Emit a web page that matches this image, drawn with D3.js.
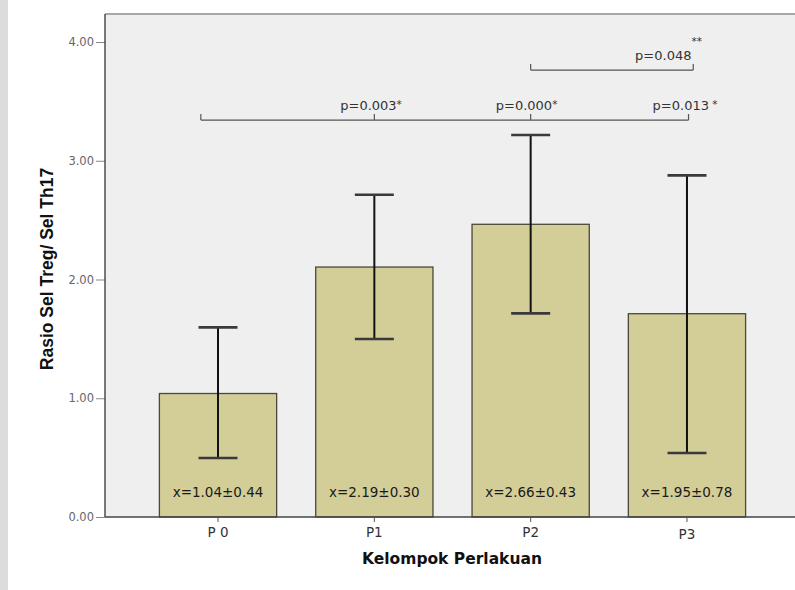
<!DOCTYPE html>
<html>
<head>
<meta charset="utf-8">
<script src="https://cdn.jsdelivr.net/npm/d3@7"></script>
<style>
  body { margin: 0; background: #fff; }
  svg { display: block; }
  .tick-y text { font-family: "DejaVu Sans", Verdana, sans-serif; font-size: 11.5px; fill: #666; }
  .mean-label { font-family: "DejaVu Sans", Verdana, sans-serif; font-size: 13.5px; fill: #1a1a1a; }
  .p-label { font-family: "DejaVu Sans", Verdana, sans-serif; font-size: 13px; fill: #333; }
  .cat-label { font-family: "DejaVu Sans", Verdana, sans-serif; font-size: 13.5px; fill: #333; }
  .axis-title { font-weight: bold; fill: #111; }
</style>
</head>
<body>
<div id="chart"></div>
<script>
// groups and bar values
const categories = ["P 0", "P1", "P2", "P3"];
const barValues = [1.04, 2.105, 2.465, 1.712];
const errLow = [0.497, 1.499, 1.715, 0.539];
const errHigh = [1.597, 2.714, 3.217, 2.877];
const meanLabels = ["x=1.04±0.44", "x=2.19±0.30", "x=2.66±0.43", "x=1.95±0.78"];
const yTicks = [0, 1, 2, 3, 4];

// significance brackets, positions in group index units (0 = first group)
const bracketLevels = [3.343, 3.764];
const bracketEnds = [[-0.11, 3.01], [2.0, 3.04]];
const bracketTicks = [[-0.11, 1, 2, 3.01], [2.0, 3.04]];
const pTexts = ["p=0.003", "p=0.000", "p=0.013", "p=0.048"];
const pStars = ["*", "*", " *", "**"];
const pIndex = [0.979, 1.974, 2.988, 2.882];
const pBracket = [0, 0, 0, 1];

const W = 795, H = 590;
const margin = { top: 14, right: -5, bottom: 73, left: 105 };
const width = W - margin.left - margin.right;
const height = H - margin.top - margin.bottom;

const svg = d3.select("#chart").append("svg")
    .attr("width", W)
    .attr("height", H);

// grey strip on the left edge of the scanned page
svg.append("rect")
    .attr("x", 0).attr("y", 0)
    .attr("width", 8).attr("height", H)
    .attr("fill", "#dcdcdc");

const g = svg.append("g")
    .attr("transform", `translate(${margin.left},${margin.top})`);

const x = d3.scaleBand()
    .domain(categories)
    .range([0, width])
    .paddingInner(0.25)
    .paddingOuter(0.348);

const y = d3.scaleLinear()
    .domain([0, 4.236])
    .range([height, 0]);

// position along x in group-index units
const pos = d3.scaleLinear()
    .domain([0, 1])
    .range([x(categories[0]) + x.bandwidth() / 2, x(categories[1]) + x.bandwidth() / 2]);

// plot background
g.append("rect")
    .attr("width", width)
    .attr("height", height)
    .attr("fill", "#efefef");

g.append("line")
    .attr("x1", 0).attr("x2", width)
    .attr("y1", 0).attr("y2", 0)
    .attr("stroke", "#a8a8a8")
    .attr("stroke-width", 2);

// bars
g.selectAll(".bar")
    .data(categories)
    .enter()
    .append("rect")
    .attr("class", "bar")
    .attr("x", d => x(d))
    .attr("y", (d, i) => y(barValues[i]))
    .attr("width", x.bandwidth())
    .attr("height", (d, i) => height - y(barValues[i]))
    .attr("fill", "#d3cd98")
    .attr("stroke", "#4a4838")
    .attr("stroke-width", 1.3);

// error bars
const cx = d => x(d) + x.bandwidth() / 2;
const capW = 39;

g.selectAll(".err")
    .data(categories)
    .enter()
    .append("line")
    .attr("class", "err")
    .attr("x1", cx).attr("x2", cx)
    .attr("y1", (d, i) => y(errLow[i]))
    .attr("y2", (d, i) => y(errHigh[i]))
    .attr("stroke", "#111")
    .attr("stroke-width", 2);

[errLow, errHigh].forEach(vals => {
    g.selectAll(null)
        .data(categories)
        .enter()
        .append("line")
        .attr("x1", d => cx(d) - capW / 2)
        .attr("x2", d => cx(d) + capW / 2)
        .attr("y1", (d, i) => y(vals[i]))
        .attr("y2", (d, i) => y(vals[i]))
        .attr("stroke", "#3a3a3a")
        .attr("stroke-width", 2.6);
});

// mean labels inside bars
g.selectAll(".mean-label")
    .data(categories)
    .enter()
    .append("text")
    .attr("class", "mean-label")
    .attr("text-anchor", "middle")
    .attr("x", cx)
    .attr("y", height - 20)
    .text((d, i) => meanLabels[i]);

// axes
const yAxis = g.append("g")
    .attr("class", "tick-y")
    .call(d3.axisLeft(y).tickValues(yTicks).tickFormat(d3.format(".2f")).tickSize(9).tickPadding(2));
yAxis.select(".domain").remove();
yAxis.selectAll(".tick line").attr("stroke", "#888");

g.append("line")
    .attr("x1", 0).attr("x2", 0)
    .attr("y1", 0).attr("y2", height)
    .attr("stroke", "#333")
    .attr("stroke-width", 1.3);

g.append("line")
    .attr("x1", 0).attr("x2", width)
    .attr("y1", height).attr("y2", height)
    .attr("stroke", "#444")
    .attr("stroke-width", 1.3);

const xAxis = g.append("g")
    .attr("transform", `translate(0,${height})`)
    .call(d3.axisBottom(x).tickSize(5).tickPadding(4));
xAxis.select(".domain").remove();
xAxis.selectAll(".tick line").attr("stroke", "#555");
xAxis.selectAll(".tick text")
    .attr("class", "cat-label")
    .attr("dy", (d, i) => i === 3 ? "0.95em" : "0.8em");

// significance brackets
bracketLevels.forEach((lvl, b) => {
    g.append("line")
        .attr("x1", pos(bracketEnds[b][0]))
        .attr("x2", pos(bracketEnds[b][1]))
        .attr("y1", y(lvl)).attr("y2", y(lvl))
        .attr("stroke", "#555")
        .attr("stroke-width", 1.2);
    g.selectAll(null)
        .data(bracketTicks[b])
        .enter()
        .append("line")
        .attr("x1", d => pos(d)).attr("x2", d => pos(d))
        .attr("y1", y(lvl)).attr("y2", y(lvl) - 6)
        .attr("stroke", "#555")
        .attr("stroke-width", 1.2);
});

const pl = g.selectAll(".p-label")
    .data(pTexts)
    .enter()
    .append("text")
    .attr("class", "p-label")
    .attr("x", (d, i) => pos(pIndex[i]))
    .attr("y", (d, i) => y(bracketLevels[pBracket[i]]) - 10)
    .attr("text-anchor", "middle");
pl.append("tspan").text(d => d);
pl.append("tspan")
    .attr("font-size", "10.5px")
    .attr("xml:space", "preserve")
    .attr("dy", (d, i) => i === 3 ? -15 : -2)
    .text((d, i) => pStars[i]);

// axis titles
svg.append("text")
    .attr("class", "axis-title")
    .attr("font-family", "'Liberation Sans', Arial, sans-serif")
    .attr("font-size", 17.5)
    .attr("text-anchor", "middle")
    .attr("transform", `translate(53,269) rotate(-90)`)
    .text("Rasio Sel Treg/ Sel Th17");

svg.append("text")
    .attr("class", "axis-title")
    .attr("font-family", "'DejaVu Sans', Verdana, sans-serif")
    .attr("font-size", 15.5)
    .attr("text-anchor", "middle")
    .attr("x", 452)
    .attr("y", 564)
    .text("Kelompok Perlakuan");
</script>
</body>
</html>
